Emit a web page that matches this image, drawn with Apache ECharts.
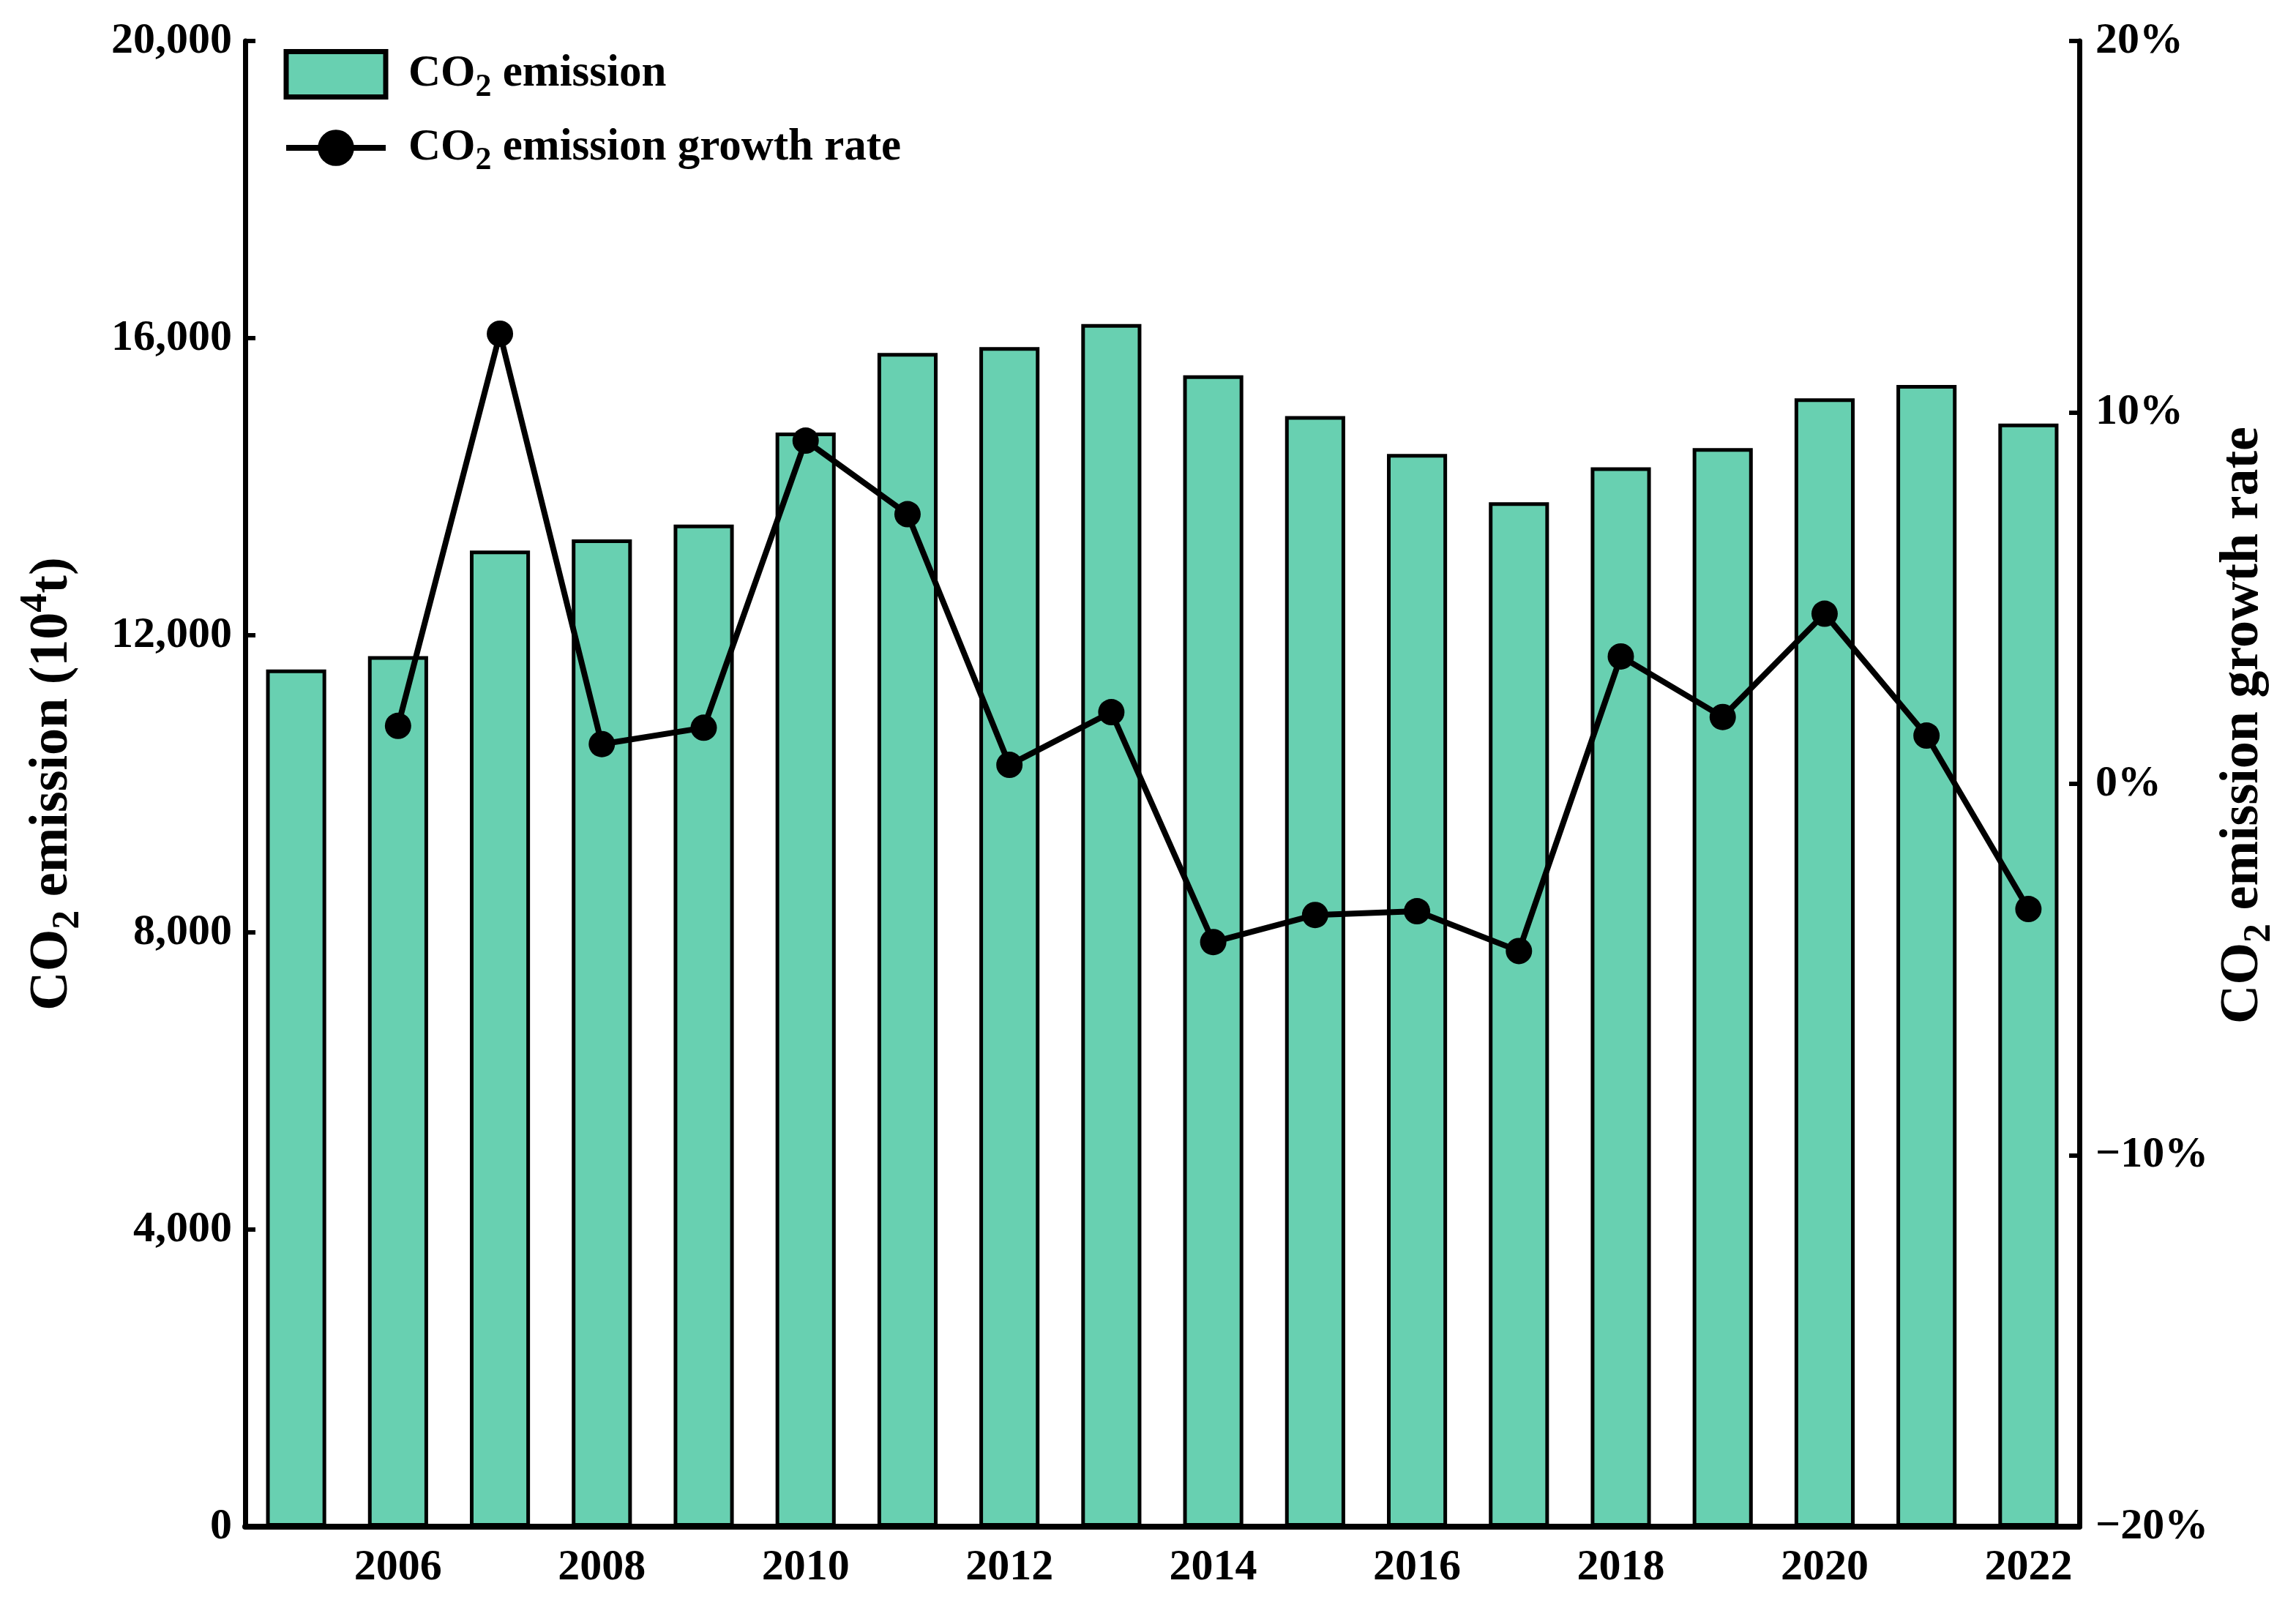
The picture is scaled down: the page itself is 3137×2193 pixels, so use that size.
<!DOCTYPE html>
<html>
<head>
<meta charset="utf-8">
<script src="https://cdn.jsdelivr.net/npm/echarts@6/dist/echarts.min.js"></script>
<style>
html,body{margin:0;padding:0;background:#fff;}
#chart{width:3137px;height:2193px;}
</style>
</head>
<body>
<div id="chart"></div>
<script>
const years = ['2005','2006','2007','2008','2009','2010','2011','2012','2013','2014','2015','2016','2017','2018','2019','2020','2021','2022'];
const emission = [11540, 11720, 13140, 13290, 13490, 14730, 15800, 15880, 16190, 15500, 14950, 14440, 13790, 14260, 14520, 15190, 15370, 14850];
const growthRate = [null, 1.56, 12.12, 1.07, 1.51, 9.24, 7.26, 0.51, 1.93, -4.26, -3.53, -3.43, -4.50, 3.43, 1.80, 4.58, 1.30, -3.37];
const leftTicks = [0, 4000, 8000, 12000, 16000, 20000];
const rightTicks = [-20, -10, 0, 10, 20];

const FONT = 'Liberation Serif';
const rich = {
  g: {fontFamily: FONT, fontWeight: 'bold', fontSize: 61, lineHeight: 80, color: '#000', padding: [0,0,0,26]},
  a: {fontFamily: FONT, fontWeight: 'bold', fontSize: 61, lineHeight: 80, color: '#000'},
  s: {fontFamily: FONT, fontWeight: 'bold', fontSize: 44, lineHeight: 44, verticalAlign: 'bottom', color: '#000'}
};
const titleRich = {
  a: {fontFamily: FONT, fontWeight: 'bold', fontSize: 74, lineHeight: 96, color: '#000'},
  s: {fontFamily: FONT, fontWeight: 'bold', fontSize: 52, lineHeight: 52, verticalAlign: 'bottom', color: '#000'},
  p: {fontFamily: FONT, fontWeight: 'bold', fontSize: 52, lineHeight: 52, verticalAlign: 'top', color: '#000'}
};

const chart = echarts.init(document.getElementById('chart'), null, {renderer: 'canvas'});
const oddOnly = (i) => i % 2 === 1;
chart.setOption({
  animation: false,
  backgroundColor: '#fff',
  grid: {left: 335, right: 296, top: 56, bottom: 107, containLabel: false},
  legend: {
    orient: 'vertical',
    left: 382,
    top: 62,
    itemWidth: 136,
    itemHeight: 62,
    itemGap: 30,
    data: [
      {name: 'CO2 emission', icon: 'rect', itemStyle: {color: '#68d0b1', borderColor: '#000', borderWidth: 7}},
      {name: 'CO2 emission growth rate'}
    ],
    lineStyle: {width: 8},
    formatter: function (name) {
      if (name === 'CO2 emission') return '{g|CO}{s|2}{a| emission}';
      return '{g|CO}{s|2}{a| emission growth rate}';
    },
    textStyle: {rich: rich}
  },
  xAxis: {
    type: 'category',
    data: years,
    boundaryGap: true,
    axisLine: {show: true, lineStyle: {color: '#000', width: 8}},
    axisTick: {show: true, inside: true, length: 14, alignWithLabel: true, interval: oddOnly, lineStyle: {color: '#000', width: 6}},
    axisLabel: {interval: oddOnly, margin: 26, color: '#000', fontFamily: FONT, fontWeight: 'bold', fontSize: 60},
    splitLine: {show: false}
  },
  yAxis: [
    {
      type: 'value',
      min: leftTicks[0],
      max: leftTicks[leftTicks.length - 1],
      interval: 4000,
      position: 'left',
      name: '{a|CO}{s|2}{a| emission (10}{p|4}{a|t)}',
      nameLocation: 'middle',
      nameRotate: 90,
      nameGap: 215,
      nameTextStyle: {rich: titleRich},
      axisLine: {show: true, lineStyle: {color: '#000', width: 7}},
      axisTick: {show: true, inside: true, length: 14, lineStyle: {color: '#000', width: 6}},
      axisLabel: {
        margin: 18, color: '#000', fontFamily: FONT, fontWeight: 'bold', fontSize: 60,
        formatter: (v) => v.toLocaleString('en-US')
      },
      splitLine: {show: false}
    },
    {
      type: 'value',
      min: rightTicks[0],
      max: rightTicks[rightTicks.length - 1],
      interval: 10,
      position: 'right',
      name: '{a|CO}{s|2}{a| emission growth rate}',
      nameLocation: 'middle',
      nameRotate: 90,
      nameGap: 172,
      nameTextStyle: {rich: titleRich, padding: [0, 0, 0, 160]},
      axisLine: {show: true, lineStyle: {color: '#000', width: 7}},
      axisTick: {show: true, inside: true, length: 14, lineStyle: {color: '#000', width: 6}},
      axisLabel: {
        margin: 22, color: '#000', fontFamily: FONT, fontWeight: 'bold', fontSize: 60,
        formatter: (v) => (v < 0 ? '\u2212' + Math.abs(v) : v) + '%'
      },
      splitLine: {show: false}
    }
  ],
  series: [
    {
      name: 'CO2 emission',
      type: 'bar',
      yAxisIndex: 0,
      data: emission,
      barCategoryGap: '41%',
      itemStyle: {color: '#68d0b1', borderColor: '#000', borderWidth: 5}
    },
    {
      name: 'CO2 emission growth rate',
      type: 'line',
      yAxisIndex: 1,
      data: growthRate,
      connectNulls: false,
      symbol: 'circle',
      symbolSize: 36,
      lineStyle: {color: '#000', width: 8},
      itemStyle: {color: '#000'},
      z: 5
    }
  ]
});
</script>
</body>
</html>
